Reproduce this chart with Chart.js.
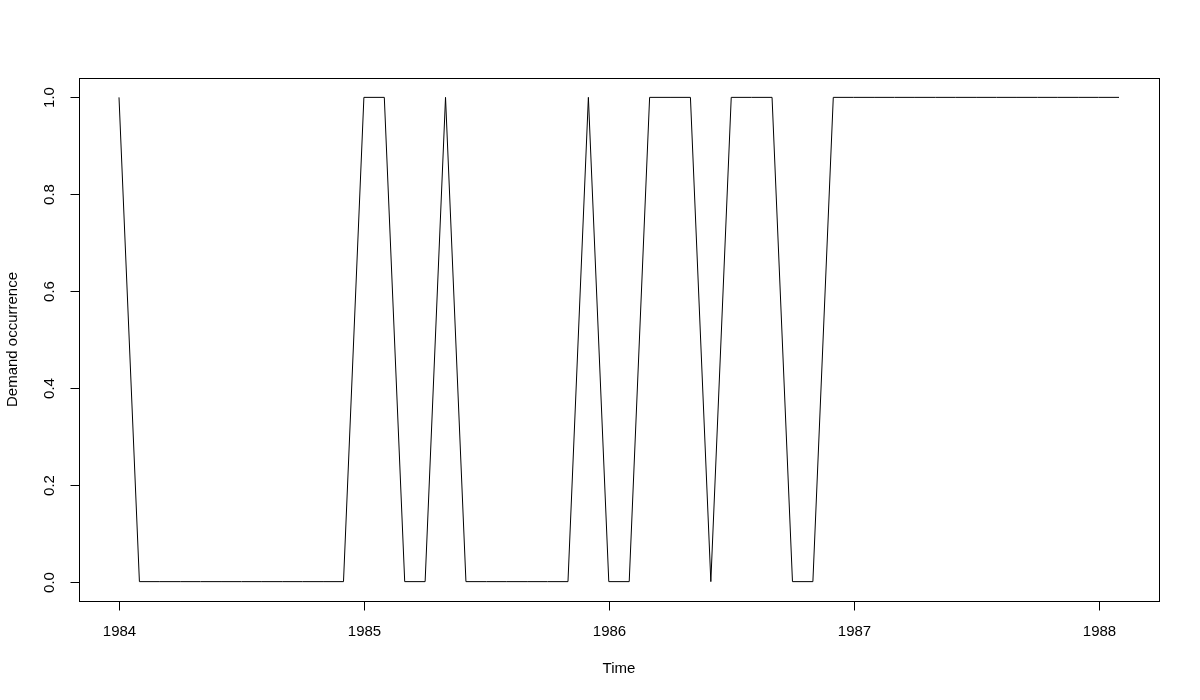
<!DOCTYPE html>
<html>
<head>
<meta charset="utf-8">
<script src="https://cdn.jsdelivr.net/npm/chart.js@4.4.1/dist/chart.umd.min.js"></script>
<style>
  html, body { margin: 0; padding: 0; background: #fff; }
  #wrap { width: 1200px; height: 700px; }
</style>
</head>
<body>
<div id="wrap"><canvas id="myChart" width="1200" height="700"></canvas></div>
<script>
// monthly series, starts Jan 1984
const startYear = 1984;
const freq = 12;
const occurrence = [
  1, 0, 0, 0, 0, 0, 0, 0, 0, 0, 0, 0,
  1, 1, 0, 0, 1, 0, 0, 0, 0, 0, 0, 1,
  0, 0, 1, 1, 1, 0, 1, 1, 1, 0, 0, 1,
  1, 1, 1, 1, 1, 1, 1, 1, 1, 1, 1, 1,
  1, 1
];
const xTicks = [1984, 1985, 1986, 1987, 1988];
const yTicks = [0.0, 0.2, 0.4, 0.6, 0.8, 1.0];
const xTitle = 'Time';
const yTitle = 'Demand occurrence';

let puntos = occurrence.map((v, i) => ({ x: startYear + i / freq, y: v }));
let xLast = startYear + (occurrence.length - 1) / freq;
let xPad = (xLast - startYear) * 0.04;

const fontFam = '"Liberation Sans", Arial, sans-serif';

// R style axes drawn with the chart scales
const ejesR = {
  id: 'ejesR',
  afterDraw(chart) {
    const ctx = chart.ctx;
    const a = chart.chartArea;
    const xs = chart.scales.x;
    const ys = chart.scales.y;
    ctx.save();
    ctx.strokeStyle = '#000';
    ctx.lineWidth = 1;
    ctx.strokeRect(Math.round(a.left) + 0.5, Math.round(a.top) + 0.5,
      Math.round(a.right - a.left), Math.round(a.bottom - a.top));

    ctx.fillStyle = '#000';
    ctx.font = '15px ' + fontFam;

    // x axis
    let b = Math.round(a.bottom) + 0.5;
    ctx.beginPath();
    ctx.moveTo(xs.getPixelForValue(xTicks[0]), b);
    ctx.lineTo(xs.getPixelForValue(xTicks[xTicks.length - 1]), b);
    ctx.stroke();
    ctx.textAlign = 'center';
    ctx.textBaseline = 'middle';
    xTicks.forEach(t => {
      let px = Math.round(xs.getPixelForValue(t)) + 0.5;
      ctx.beginPath();
      ctx.moveTo(px, b);
      ctx.lineTo(px, b + 9);
      ctx.stroke();
      ctx.fillText(String(t), px, 632);
    });

    // y axis
    let l = Math.round(a.left) + 0.5;
    ctx.beginPath();
    ctx.moveTo(l, ys.getPixelForValue(yTicks[0]));
    ctx.lineTo(l, ys.getPixelForValue(yTicks[yTicks.length - 1]));
    ctx.stroke();
    yTicks.forEach(t => {
      let py = Math.round(ys.getPixelForValue(t)) + 0.5;
      ctx.beginPath();
      ctx.moveTo(l, py);
      ctx.lineTo(l - 9, py);
      ctx.stroke();
      ctx.save();
      ctx.translate(50, py);
      ctx.rotate(-Math.PI / 2);
      ctx.fillText(t.toFixed(1), 0, 0);
      ctx.restore();
    });

    // titles
    ctx.fillText(xTitle, (a.left + a.right) / 2, 669);
    ctx.save();
    ctx.translate(13, (a.top + a.bottom) / 2);
    ctx.rotate(-Math.PI / 2);
    ctx.fillText(yTitle, 0, 0);
    ctx.restore();
    ctx.restore();
  }
};

var ctx = document.getElementById('myChart').getContext('2d');
let myChart = new Chart(ctx, {
  type: 'line',
  data: {
    datasets: [{
      data: puntos,
      borderColor: '#000',
      borderWidth: 1,
      pointRadius: 0,
      tension: 0,
      fill: false
    }]
  },
  options: {
    responsive: false,
    animation: false,
    events: [],
    layout: { padding: { left: 0, right: 41, top: 78, bottom: 0 } },
    plugins: { legend: { display: false }, tooltip: { enabled: false } },
    scales: {
      x: {
        type: 'linear',
        min: startYear - xPad,
        max: xLast + xPad,
        grid: { display: false },
        border: { display: false },
        ticks: { display: false },
        afterFit(s) { s.height = 99; }
      },
      y: {
        min: -0.04,
        max: 1.04,
        grid: { display: false },
        border: { display: false },
        ticks: { display: false },
        afterFit(s) { s.width = 79; }
      }
    }
  },
  plugins: [ejesR]
});
</script>
</body>
</html>
